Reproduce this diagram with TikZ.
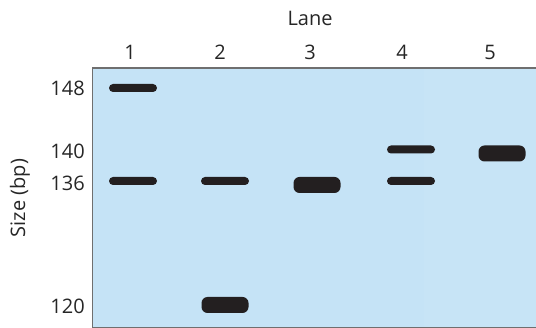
\documentclass[tikz,border=0pt]{standalone}
\usepackage{fontspec}
\setmainfont{Open Sans}
\definecolor{gelblue}{HTML}{C5E3F6}
\definecolor{bandcol}{HTML}{231F20}
\definecolor{edgegray}{HTML}{6F6F6F}
\begin{document}
\begin{tikzpicture}[x=1pt,y=-1pt,
  lbl/.style={font=\fontsize{20}{22}\selectfont, text=black!85, inner sep=0pt},
  thin/.style={fill=bandcol, minimum width=48pt, minimum height=8pt, rounded corners=4pt, inner sep=0pt, draw=none},
  thick/.style={fill=bandcol, minimum width=47pt, minimum height=16pt, rounded corners=6pt, inner sep=0pt, draw=none}]
\useasboundingbox (0,0) rectangle (536,328);
\fill[gelblue] (92,68) rectangle (536,328);
\fill[gelblue!96!white] (424,69) rectangle (536,327);
\draw[edgegray, line width=1.2pt] (536,68) -- (92.5,68) -- (92.5,327.5) -- (536,327.5);
% labels
\node[lbl] (lane) at (310,18) {Lane};
\node[lbl] (n1) at (130,52) {1};
\node[lbl] (n2) at (220,52) {2};
\node[lbl] (n3) at (310,52) {3};
\node[lbl] (n4) at (402,52) {4};
\node[lbl] (n5) at (490,52) {5};
\node[lbl, anchor=east] (s148) at (85,88) {148};
\node[lbl, anchor=east] (s140) at (85,151) {140};
\node[lbl, anchor=east] (s136) at (85,183) {136};
\node[lbl, anchor=east] (s120) at (85,306) {120};
\node[lbl, rotate=90] (size) at (20,198) {Size (bp)};
% bands
\node[thin] (b1a) at (133,88) {};
\node[thin] (b1b) at (133,181) {};
\node[thin] (b2a) at (225,181) {};
\node[thick] (b2b) at (225,305) {};
\node[thick] (b3) at (317,185) {};
\node[thin] (b4a) at (411,149.5) {};
\node[thin] (b4b) at (411,181) {};
\node[thick] (b5) at (502,153.5) {};
\end{tikzpicture}
\end{document}
